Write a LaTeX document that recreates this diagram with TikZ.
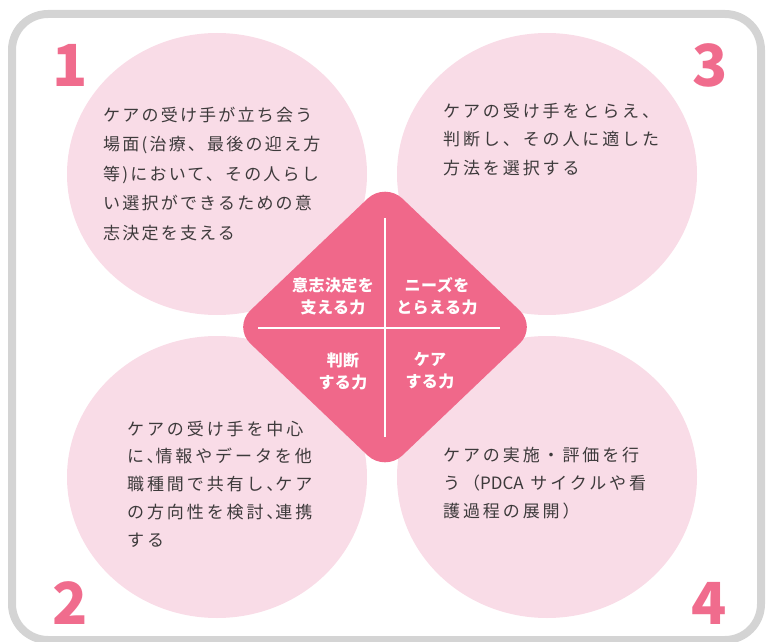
\documentclass[tikz,border=0pt]{standalone}
\usepackage{fontspec}
\setmainfont{Noto Sans CJK JP}
\newfontfamily\jp[LetterSpace=13]{Noto Sans CJK JP}
\newfontfamily\jpw[LetterSpace=17]{Noto Sans CJK JP}
\newfontfamily\jpb[LetterSpace=3]{Noto Sans CJK JP}
\newfontfamily\numfont{Noto Sans CJK JP}
\usetikzlibrary{shapes.geometric}
\definecolor{bordergray}{HTML}{D4D4D4}
\definecolor{circpink}{HTML}{F9DCE7}
\definecolor{diampink}{HTML}{F0688A}
\definecolor{numpink}{HTML}{F06C8D}
\definecolor{txtgray}{HTML}{3D3A3B}
\tikzset{
  petal/.style={ellipse, fill=circpink, minimum width=300pt, minimum height=282pt, inner sep=0pt},
  body/.style={align=left, anchor=north west, inner sep=0pt, text=txtgray},
  lab/.style={align=center, inner sep=0pt, text=white, font=\jpb\bfseries\fontsize{16}{22}\selectfont},
  digit/.style={inner sep=0pt, text=numpink, font=\numfont\bfseries\fontsize{58}{58}\selectfont},
  divider/.style={white, line width=2.5pt}
}
\begin{document}
\begin{tikzpicture}[x=1pt,y=-1pt]
\useasboundingbox (0,0) rectangle (769,642);
% outer frame
\draw[line width=8pt, draw=bordergray, rounded corners=36pt] (12,14) rectangle (761,640);
% petals
\node[petal] (c1) at (217,174) {};
\node[petal] (c3) at (547,174) {};
\node[petal] (c2) at (217,477) {};
\node[petal] (c4) at (547,477) {};
% diamond
\fill[diampink, rounded corners=24pt] (385,182) -- (537,327) -- (385,472) -- (233,327) -- cycle;
\coordinate (vt) at (385,218);
\coordinate (vb) at (385,437);
\coordinate (hl) at (258,328);
\coordinate (hr) at (500,328);
\draw[divider] (vt) -- (vb);
\draw[divider] (hl) -- (hr);
% diamond labels
\node[lab] (l1) at (333,296) {意志決定を\\支える力};
\node[lab] (l2) at (437,296) {ニーズを\\とらえる力};
\node[lab] (l3) at (343,371) {判断\\する力};
\node[lab] (l4) at (430,371) {ケア\\する力};
% body texts
\node[body, font=\jp\fontsize{17}{29.5}\selectfont] (t1) at (103,106.5)
  {ケアの受け手が立ち会う\\場面(治療、最後の迎え方\\等)において、その人らし\\い選択ができるための意\\志決定を支える};
\node[body, font=\jpw\fontsize{17}{28.5}\selectfont] (t3) at (443,102.5)
  {ケアの受け手をとらえ、\\判断し、その人に適した\\方法を選択する};
\node[body, font=\jpw\fontsize{17}{27.8}\selectfont] (t2) at (127,420.5)
  {ケアの受け手を中心\\に、\kern-8pt 情報やデータを他\\職種間で共有し、\kern-8pt ケア\\の方向性を検討、\kern-8pt 連携\\する};
\node[body, font=\jpw\fontsize{17}{28}\selectfont] (t4) at (443,446.5)
  {ケアの実施・評価を行\\う（{\numfont PDCA} サイクルや看\\護過程の展開）};
% numbers
\node[digit] (n1) at (70,65) {1};
\node[digit] (n3) at (710,65) {3};
\node[digit] (n2) at (70,603) {2};
\node[digit] (n4) at (709,603) {4};
\end{tikzpicture}
\end{document}
